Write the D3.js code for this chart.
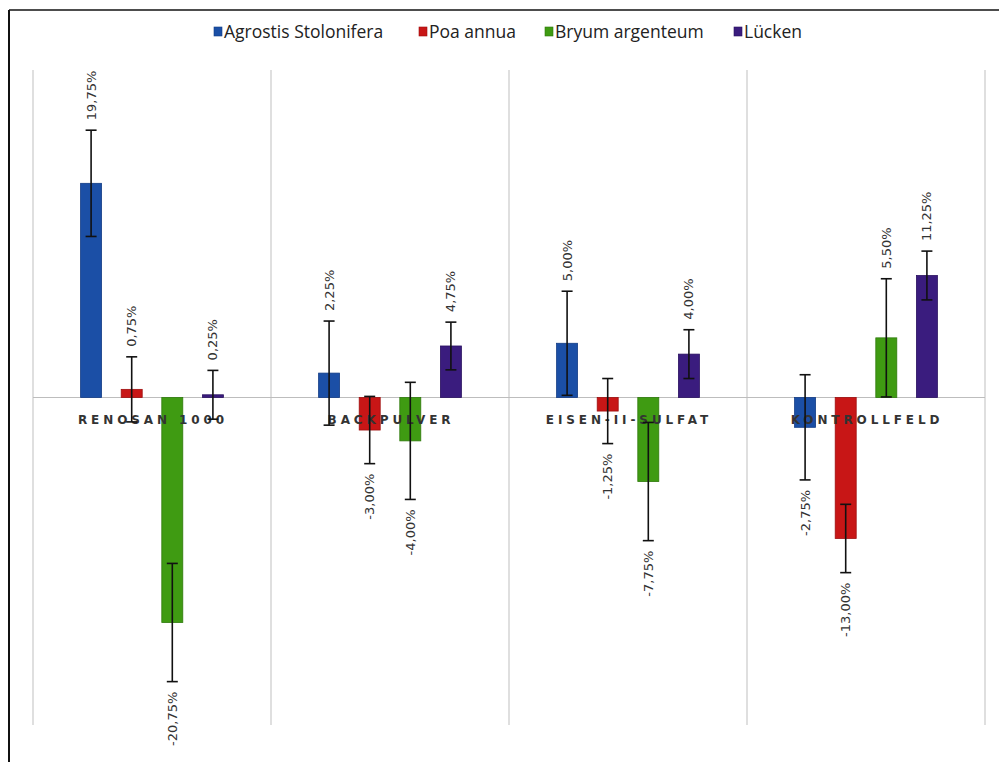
<!DOCTYPE html>
<html>
<head>
<meta charset="utf-8">
<script src="https://cdn.jsdelivr.net/npm/d3@7"></script>
<style>
  html, body { margin: 0; padding: 0; background: #fff; }
  svg { display: block; }
</style>
</head>
<body>
<svg id="chart" width="999" height="762"></svg>
<script>
// ---- data ----
const categories = ["RENOSAN 1000", "BACKPULVER", "EISEN-II-SULFAT", "KONTROLLFELD"];
const seriesNames = ["Agrostis Stolonifera", "Poa annua", "Bryum argenteum", "Lücken"];
const agrostis = [19.75, 2.25, 5.00, -2.75];
const poa      = [0.75, -3.00, -1.25, -13.00];
const bryum    = [-20.75, -4.00, -7.75, 5.50];
const luecken  = [0.25, 4.75, 4.00, 11.25];
const errAgrostis = [4.9, 4.8, 4.8, 4.85];
const errPoa      = [3.0, 3.1, 3.0, 3.15];
const errBryum    = [5.45, 5.4, 5.45, 5.45];
const errLuecken  = [2.25, 2.2, 2.25, 2.25];
const labelText = v => (v < 0 ? "-" : "") + Math.abs(v).toFixed(2).replace(".", ",") + "%";

const seriesValues = [agrostis, poa, bryum, luecken];
const seriesErrors = [errAgrostis, errPoa, errBryum, errLuecken];
const colors = ["#1b4fa6", "#c81616", "#3f9b12", "#3a1c7e"];
const strokes = ["#133c85", "#9e0f0f", "#2f7a0c", "#2a1160"];

const rows = [];
categories.forEach((c, ci) => {
  seriesNames.forEach((s, si) => {
    rows.push({cat: c, series: s, si, value: seriesValues[si][ci], err: seriesErrors[si][ci]});
  });
});

const svg = d3.select("#chart");

// frame lines
svg.append("line").attr("x1", 9).attr("x2", 999).attr("y1", 10).attr("y2", 10)
  .attr("stroke", "#4d4d4d").attr("stroke-width", 2);
svg.append("line").attr("x1", 9).attr("x2", 9).attr("y1", 10).attr("y2", 762)
  .attr("stroke", "#111").attr("stroke-width", 2);

// scales
const x0 = d3.scaleBand().domain(categories).range([33, 985]).padding(0);
const bw = x0.bandwidth();
const innerOffset = 47.6;
const x1 = d3.scaleBand().domain(seriesNames).range([innerOffset, bw - innerOffset])
  .paddingInner(0.483).paddingOuter(0);
const y = d3.scaleLinear().domain([-30.2, 30.2]).range([725, 70]);

// vertical separators
const seps = categories.map(c => x0(c)).concat([x0(categories[categories.length - 1]) + bw]);
svg.append("g").selectAll("line").data(seps).join("line")
  .attr("x1", d => d).attr("x2", d => d)
  .attr("y1", y(30.2)).attr("y2", y(-30.2))
  .attr("stroke", "#d4d4d4").attr("stroke-width", 1.5);

// zero line
svg.append("line").attr("x1", 33).attr("x2", 985).attr("y1", y(0)).attr("y2", y(0))
  .attr("stroke", "#bdbdbd").attr("stroke-width", 1.2);

// bars
const g = svg.append("g");
g.selectAll("rect").data(rows).join("rect")
  .attr("x", d => x0(d.cat) + x1(d.series))
  .attr("width", x1.bandwidth())
  .attr("y", d => Math.min(y(d.value), y(0)))
  .attr("height", d => Math.max(Math.abs(y(d.value) - y(0)), 1.5))
  .attr("fill", d => colors[d.si])
  .attr("stroke", d => strokes[d.si]).attr("stroke-width", 0.8);

// category labels
svg.append("g").selectAll("text").data(categories).join("text")
  .attr("x", d => x0(d) + bw / 2 + 1)
  .attr("y", y(0) + 26)
  .attr("text-anchor", "middle")
  .attr("font-family", "DejaVu Sans, sans-serif")
  .attr("font-size", 12)
  .attr("font-weight", "bold")
  .attr("letter-spacing", "3.9px")
  .attr("fill", "#333")
  .text(d => d);

// error bars
const cx = d => x0(d.cat) + x1(d.series) + x1.bandwidth() / 2;
const eg = svg.append("g").attr("stroke", "#111").attr("stroke-width", 1.6);
eg.selectAll("line.v").data(rows).join("line").attr("class", "v")
  .attr("x1", cx).attr("x2", cx)
  .attr("y1", d => y(d.value + d.err)).attr("y2", d => y(d.value - d.err));
eg.selectAll("line.t").data(rows).join("line").attr("class", "t")
  .attr("x1", d => cx(d) - 5.5).attr("x2", d => cx(d) + 5.5)
  .attr("y1", d => y(d.value + d.err)).attr("y2", d => y(d.value + d.err));
eg.selectAll("line.b").data(rows).join("line").attr("class", "b")
  .attr("x1", d => cx(d) - 5.5).attr("x2", d => cx(d) + 5.5)
  .attr("y1", d => y(d.value - d.err)).attr("y2", d => y(d.value - d.err));

// value labels (rotated, reading bottom to top)
const gap = 10;
svg.append("g").selectAll("text").data(rows).join("text")
  .attr("transform", d => {
    const ty = d.value >= 0 ? y(d.value + d.err) - gap : y(d.value - d.err) + gap;
    return `translate(${cx(d)},${ty}) rotate(-90)`;
  })
  .attr("text-anchor", d => d.value >= 0 ? "start" : "end")
  .attr("dominant-baseline", "central")
  .attr("font-family", "DejaVu Sans, sans-serif")
  .attr("font-size", 13)
  .attr("fill", "#333")
  .text(d => labelText(d.value));

// legend
const legendX = [214, 419, 545, 734];
const lg = svg.append("g");
seriesNames.forEach((s, i) => {
  lg.append("rect").attr("x", legendX[i]).attr("y", 27).attr("width", 8).attr("height", 9)
    .attr("fill", colors[i]).attr("stroke", strokes[i]).attr("stroke-width", 0.6);
  lg.append("text")
    .attr("x", legendX[i] + 10).attr("y", 37.5)
    .attr("font-family", "Open Sans, sans-serif")
    .attr("font-size", 17.5)
    .attr("fill", "#222")
    .text(s);
});
</script>
</body>
</html>
